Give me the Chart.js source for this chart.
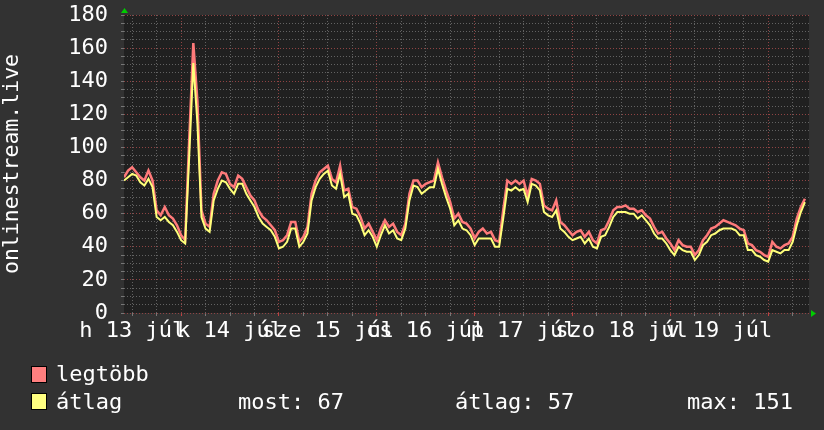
<!DOCTYPE html>
<html>
<head>
<meta charset="utf-8">
<script src="https://cdn.jsdelivr.net/npm/chart.js@4.4.1/dist/chart.umd.min.js"></script>
<style>
html, body { margin: 0; padding: 0; background: #323232; }
#wrap { position: relative; width: 824px; height: 430px; overflow: hidden; background: #323232; }
#c { position: absolute; left: 0; top: 0; }
.lg { position: absolute; font-family: "DejaVu Sans Mono", monospace; font-size: 22px; line-height: 26px; color: #fff; white-space: pre; }
.sw { position: absolute; width: 14px; height: 15px; border: 1px solid #000; }
</style>
</head>
<body>
<div id="wrap">
  <canvas id="c" width="824" height="430"></canvas>
  <div class="sw" style="left:31px;top:366px;background:#ff7f7f"></div>
  <div class="lg" style="left:56px;top:361px">legtöbb</div>
  <div class="sw" style="left:31px;top:393px;background:#ffff80"></div>
  <div class="lg" style="left:56px;top:389px">átlag</div>
  <div class="lg" style="left:238px;top:389px" id="lgNow"></div>
  <div class="lg" style="left:455px;top:389px" id="lgAvg"></div>
  <div class="lg" style="left:687px;top:389px" id="lgMax"></div>
</div>
<script>
// onlinestream.live - one week, hourly values, first sample 13 júl ~10:00
const yTitle = 'onlinestream.live';
const dayLabels = ['h 13 júl', 'k 14 júl', 'sze 15 júl', 'cs 16 júl', 'p 17 júl', 'szo 18 júl', 'v 19 júl'];

// átlag (average)
const atlag = [
  80, 82, 84, 83, 79, 77, 81, 76, 58, 56, 58, 55, 53, 49, 44, 42, 95, 151, 115, 58,
  51, 49, 68, 75, 80, 79, 75, 72, 78, 78, 72, 68, 64, 58, 54, 52, 50, 46, 39, 40,
  43, 51, 51, 40, 43, 48, 68, 76, 81, 84, 86, 77, 75, 84, 70, 72, 60, 59, 54, 47,
  50, 46, 40, 47, 53, 48, 50, 45, 44, 51, 68, 77, 76, 72, 74, 76, 76, 87, 78, 70,
  63, 53, 56, 51, 50, 47, 41, 45, 45, 45, 45, 40, 40, 57, 75, 74, 76, 74, 75, 67,
  78, 77, 74, 61, 59, 58, 62, 51, 49, 46, 44, 45, 46, 42, 45, 40, 39, 46, 47, 52,
  58, 61, 61, 61, 60, 60, 57, 59, 56, 53, 48, 45, 45, 42, 38, 35, 40, 38, 37, 37,
  32, 35, 41, 43, 47, 48, 50, 51, 51, 51, 50, 47, 47, 38, 38, 35, 34, 32, 31, 38,
  37, 36, 38, 38, 43, 53, 61, 67
];

// legtöbb (maximum)
const legtobb = [
  82, 86, 88, 85, 82, 80, 86, 80, 62, 59, 64, 59, 57, 53, 47, 44, 105, 163, 128, 62,
  54, 52, 72, 80, 85, 84, 78, 76, 83, 81, 76, 71, 68, 62, 58, 56, 53, 50, 43, 44,
  47, 55, 55, 43, 46, 52, 72, 80, 85, 87, 89, 81, 79, 89, 74, 75, 64, 63, 58, 51,
  54, 49, 44, 51, 56, 52, 54, 49, 47, 54, 72, 80, 80, 76, 78, 79, 80, 91, 82, 74,
  67, 57, 60, 55, 54, 51, 45, 49, 51, 48, 49, 44, 43, 62, 80, 78, 80, 78, 80, 71,
  81, 80, 78, 65, 63, 62, 68, 55, 53, 50, 47, 49, 50, 46, 49, 44, 42, 50, 51, 56,
  62, 64, 64, 65, 63, 63, 61, 62, 59, 57, 52, 48, 49, 45, 42, 38, 44, 41, 40, 40,
  35, 38, 44, 47, 51, 52, 54, 56, 55, 54, 53, 51, 50, 42, 41, 38, 37, 35, 34, 43,
  40, 39, 41, 42, 46, 57, 64, 69
];

const legendNow = 'most: 67';
const legendAvg = 'átlag: 57';
const legendMax = 'max: 151';

document.getElementById('lgNow').textContent = legendNow;
document.getElementById('lgAvg').textContent = legendAvg;
document.getElementById('lgMax').textContent = legendMax;

const FONT = '"DejaVu Sans Mono", monospace';
const MINOR = 'rgba(105,105,105,0.9)';
const MAJOR = 'rgba(150,70,70,0.95)';

const bgPlugin = {
    id: 'rrdBackground',
    beforeDraw(chart) {
        const ctx = chart.ctx;
        const a = chart.chartArea;
        ctx.save();
        ctx.fillStyle = '#323232';
        ctx.fillRect(0, 0, chart.width, chart.height);
        ctx.fillStyle = '#202020';
        ctx.fillRect(a.left, a.top, a.right - a.left, a.bottom - a.top);
        ctx.restore();
    },
    afterDraw(chart) {
        const ctx = chart.ctx;
        const a = chart.chartArea;
        ctx.save();
        ctx.fillStyle = '#00cc00';
        // arrow on top of y axis
        ctx.beginPath();
        ctx.moveTo(a.left - 3, a.top - 2);
        ctx.lineTo(a.left + 4, a.top - 2);
        ctx.lineTo(a.left + 0.5, a.top - 7);
        ctx.closePath();
        ctx.fill();
        // arrow at end of x axis
        ctx.beginPath();
        ctx.moveTo(a.right + 2, a.bottom - 3);
        ctx.lineTo(a.right + 2, a.bottom + 4);
        ctx.lineTo(a.right + 7, a.bottom + 0.5);
        ctx.closePath();
        ctx.fill();
        ctx.restore();
    }
};

// hour index from the left edge of the graph
const toPoints = arr => arr.map((v, i) => ({ x: i, y: v }));

new Chart(document.getElementById('c').getContext('2d'), {
    type: 'line',
    data: {
        datasets: [
            {
                label: 'átlag',
                data: toPoints(atlag),
                borderColor: '#ffff7a',
                borderWidth: 2,
                pointRadius: 0,
                tension: 0,
                fill: false
            },
            {
                label: 'legtöbb',
                data: toPoints(legtobb),
                borderColor: '#ff7a7a',
                borderWidth: 2.5,
                pointRadius: 0,
                tension: 0,
                fill: false
            }
        ]
    },
    options: {
        responsive: false,
        animation: false,
        devicePixelRatio: 1,
        layout: { padding: { left: 0, right: 15, top: 15, bottom: 0 } },
        plugins: { legend: { display: false }, tooltip: { enabled: false } },
        scales: {
            x: {
                type: 'linear',
                min: 0,
                max: 168,
                afterFit: function(s) {
                    s.height = 117;
                    s.paddingLeft = 0;
                    s.paddingRight = 0;
                },
                afterBuildTicks: function(s) {
                    const t = [];
                    for (let h = 2; h < 168; h += 6) t.push({ value: h });
                    s.ticks = t;
                },
                grid: {
                    color: c => ((c.tick.value - 14) % 24 === 0 ? MAJOR : MINOR),
                    tickColor: c => ((c.tick.value - 14) % 24 === 0 ? '#c04040' : '#777'),
                    tickLength: 3,
                    tickBorderDash: [3, 0],
                    lineWidth: 1
                },
                border: { display: false, dash: [1, 2] },
                ticks: {
                    autoSkip: false,
                    maxRotation: 0,
                    padding: 2,
                    color: '#ffffff',
                    font: { family: FONT, size: 22 },
                    callback: function(value) {
                        return (value - 2) % 24 === 0 ? dayLabels[(value - 2) / 24] : '';
                    }
                }
            },
            y: {
                min: 0,
                max: 180,
                afterFit: function(s) {
                    s.width = 124;
                    s.paddingTop = 0;
                    s.paddingBottom = 0;
                },
                grid: {
                    color: c => (c.tick.value % 20 === 0 ? MAJOR : MINOR),
                    tickColor: '#777',
                    tickLength: 3,
                    tickBorderDash: [3, 0],
                    lineWidth: 1
                },
                border: { display: false, dash: [1, 2] },
                ticks: {
                    stepSize: 5,
                    autoSkip: false,
                    padding: 13,
                    color: '#ffffff',
                    font: { family: FONT, size: 22 },
                    callback: function(value) { return value % 20 === 0 ? value : ''; }
                },
                title: {
                    display: true,
                    text: yTitle,
                    color: '#ffffff',
                    font: { family: FONT, size: 21.5 },
                    padding: { top: 0, bottom: 0 }
                }
            }
        }
    },
    plugins: [bgPlugin]
});
</script>
</body>
</html>
